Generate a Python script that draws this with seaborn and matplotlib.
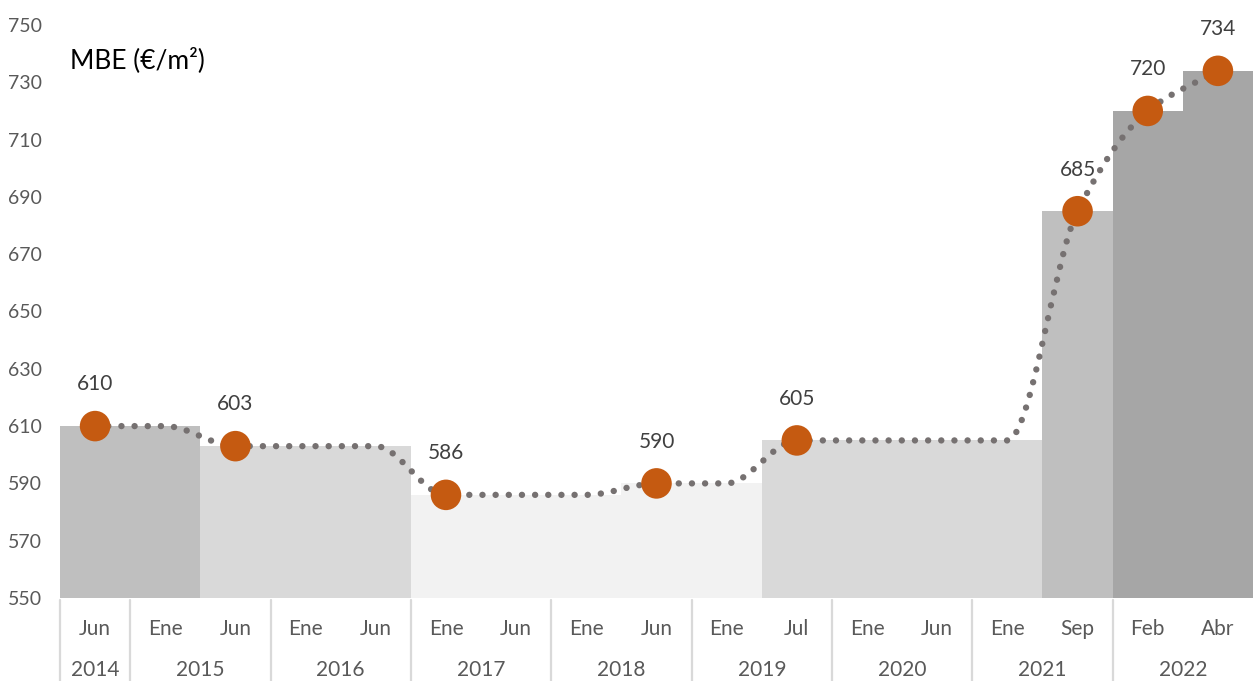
import numpy as np
import pandas as pd
import seaborn as sns
import matplotlib.pyplot as plt
from matplotlib.path import Path
from matplotlib.patches import PathPatch

# datos
meses = ["Jun", "Ene", "Jun", "Ene", "Jun", "Ene", "Jun", "Ene", "Jun",
         "Ene", "Jul", "Ene", "Jun", "Ene", "Sep", "Feb", "Abr"]
anios = [2014, 2015, 2015, 2016, 2016, 2017, 2017, 2018, 2018,
         2019, 2019, 2020, 2020, 2021, 2021, 2022, 2022]
mbe = [610, 610, 603, 603, 603, 586, 586, 586, 590,
       590, 605, 605, 605, 605, 685, 720, 734]
con_dato = [True, False, True, False, False, True, False, False, True,
            False, True, False, False, False, True, True, True]

colores_barra = ["#bfbfbf", "#bfbfbf", "#d9d9d9", "#d9d9d9", "#d9d9d9",
                 "#f2f2f2", "#f2f2f2", "#f2f2f2", "#f2f2f2", "#f2f2f2",
                 "#d9d9d9", "#d9d9d9", "#d9d9d9", "#d9d9d9", "#bfbfbf",
                 "#a6a6a6", "#a6a6a6"]


def pendientes(y):
    # tangentes monotonas (Fritsch-Carlson), para la linea suavizada
    d = np.diff(y)
    m = np.zeros(len(y))
    m[0] = d[0]
    m[-1] = d[-1]
    for k in range(1, len(y) - 1):
        if d[k - 1] * d[k] > 0:
            m[k] = 2 / (1 / d[k - 1] + 1 / d[k])
    return m


def linea_suave(y):
    y = np.asarray(y, dtype=float)
    m = pendientes(y)
    verts = [(0, y[0])]
    codes = [Path.MOVETO]
    for i in range(len(y) - 1):
        verts += [(i + 1 / 3, y[i] + m[i] / 3),
                  (i + 2 / 3, y[i + 1] - m[i + 1] / 3),
                  (i + 1, y[i + 1])]
        codes += [Path.CURVE4] * 3
    return Path(verts, codes)


if __name__ == '__main__':
    sns.set_theme(style="white")
    plt.rcParams['font.family'] = ['Lato', 'DejaVu Sans']

    df = pd.DataFrame({
        "periodo": [f"{m} {a}" for m, a in zip(meses, anios)],
        "valor": mbe,
    })
    df["pos"] = range(len(df))

    fig = plt.figure(figsize=(12.53, 6.81), dpi=100)
    ax = fig.add_axes([60 / 1253, 83 / 681, 1193 / 1253, 573 / 681])

    sns.barplot(data=df, x="periodo", y="valor", hue="periodo",
                palette=colores_barra, width=1, saturation=1,
                linewidth=0, legend=False, ax=ax)

    ax.add_patch(PathPatch(linea_suave(mbe), fill=False, edgecolor="#767171",
                           lw=4.6, linestyle=(0, (0.01, 2.05)),
                           capstyle="round", zorder=3))

    puntos = df[con_dato]
    ax.scatter(puntos["pos"], puntos["valor"], s=22 ** 2, color="#c55a11",
               edgecolors="none", zorder=4)
    for _, r in puntos.iterrows():
        ax.annotate(str(r["valor"]), (r["pos"], r["valor"]), xytext=(0, 30),
                    textcoords="offset points", ha="center", va="center",
                    fontsize=15, color="#404040")

    ax.set_ylim(550, 750)
    ax.set_xlim(-0.5, len(mbe) - 0.5)
    ax.set_yticks(np.arange(550, 751, 20))
    ax.set_xticks(df["pos"])
    ax.set_xticklabels(meses)
    ax.tick_params(axis="y", length=0, labelsize=14, labelcolor="#595959", pad=13)
    ax.tick_params(axis="x", length=0, labelsize=15, labelcolor="#595959", pad=15)
    ax.set_xlabel("")
    ax.set_ylabel("")
    sns.despine(ax=ax, left=True, bottom=True)

    # etiquetas de anio y separadores
    trans = ax.get_xaxis_transform()
    anios_s = pd.Series(anios)
    for a, grupo in anios_s.groupby(anios_s, sort=False):
        ini, fin = grupo.index.min(), grupo.index.max()
        ax.text((ini + fin) / 2, -0.126, str(a), transform=trans, ha="center",
                va="center", fontsize=15, color="#595959")
        ax.plot([ini - 0.5, ini - 0.5], [-0.004, -0.16], transform=trans,
                color="#d9d9d9", lw=1.6, clip_on=False)

    ax.text(0.0084, 0.939, "MBE (€/m²)", transform=ax.transAxes, ha="left",
            va="center", fontsize=19, color="black")

    fig.savefig("out.png", dpi=100)
